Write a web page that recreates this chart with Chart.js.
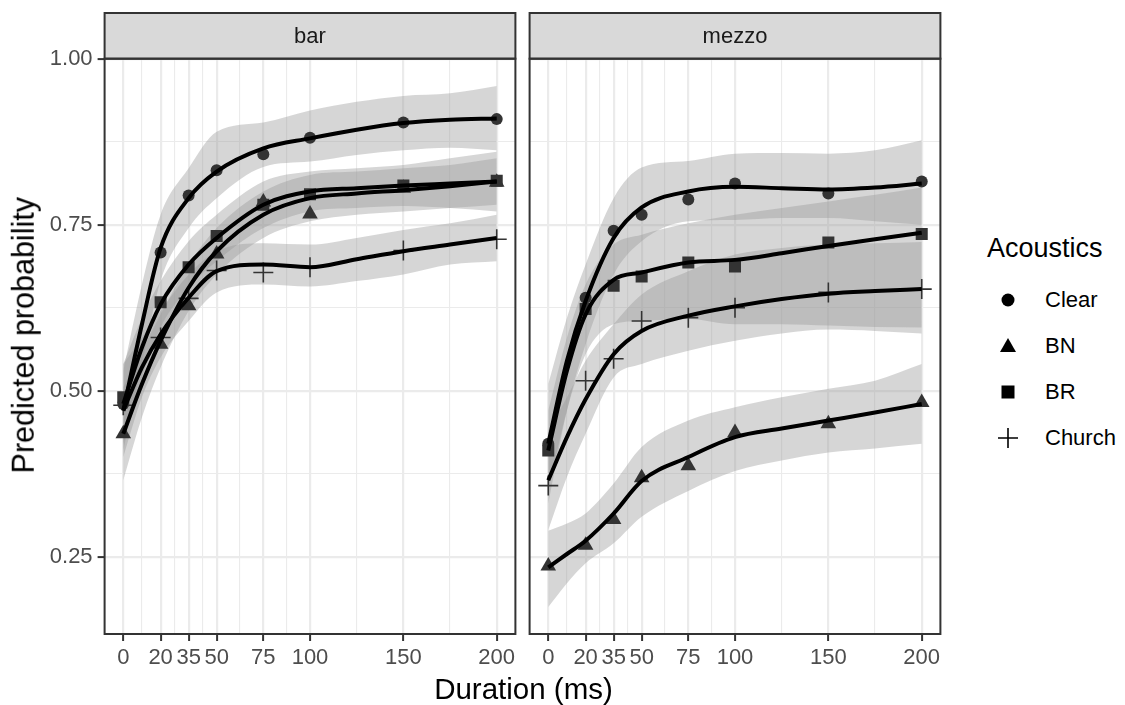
<!DOCTYPE html>
<html>
<head>
<meta charset="utf-8">
<script src="https://cdn.jsdelivr.net/npm/chart.js"></script>
<style>
  body { margin: 0; background: #fff; font-family: "Liberation Sans", Arial, Helvetica, sans-serif; }
  #wrap { position: relative; width: 1125px; height: 705px; overflow: hidden; }
  canvas { position: absolute; top: 0; }
  .txt { position: absolute; white-space: nowrap; color: #000; }
  .key { position: absolute; width: 24px; height: 24px; }
</style>
</head>
<body>
<div id="wrap">
  <canvas id="barChart" width="522" height="705" style="left:0"></canvas>
  <canvas id="mezzoChart" width="425" height="705" style="left:522px"></canvas>
  <div class="txt" style="top:674px;left:0;width:1047px;text-align:center;font-size:29.5px;line-height:29.5px">Duration (ms)</div>
  <div class="txt" style="left:-127px;top:320px;width:300px;text-align:center;font-size:30.5px;line-height:30.5px;transform:rotate(-90deg)">Predicted probability</div>
  <div class="txt" style="top:235px;left:987px;font-size:27px;line-height:27px">Acoustics</div>
  <div id="legend"></div>
</div>
<script>
// ---- data ----
const durations = [0, 20, 35, 50, 75, 100, 150, 200];
const fitX = [0, 10, 20, 35, 50, 75, 100, 125, 150, 175, 200];
const groups = ['Clear', 'BN', 'BR', 'Church'];
const xMajor = [0, 20, 35, 50, 75, 100, 150, 200];
const xMinor = [10, 27.5, 42.5, 62.5, 87.5, 125, 175];
const yMajor = [0.25, 0.5, 0.75, 1.0];
const yMinor = [0.375, 0.625, 0.875];

// panel "bar"
const barClearPts  = [0.480, 0.708, 0.794, 0.832, 0.856, 0.881, 0.904, 0.909];
const barBNPts     = [0.435, 0.570, 0.628, 0.706, 0.784, 0.766, 0.805, 0.814];
const barBRPts     = [0.490, 0.633, 0.686, 0.733, 0.780, 0.796, 0.809, 0.816];
const barChurchPts = [0.478, 0.580, 0.639, 0.681, 0.678, 0.686, 0.711, 0.728];

const barClearFit  = [0.47, 0.60, 0.715, 0.79, 0.83, 0.865, 0.88, 0.893, 0.903, 0.908, 0.91];
const barClearLo   = [0.41, 0.54, 0.665, 0.745, 0.79, 0.837, 0.845, 0.855, 0.862, 0.866, 0.862];
const barClearHi   = [0.53, 0.66, 0.765, 0.835, 0.89, 0.904, 0.922, 0.935, 0.944, 0.948, 0.959];
const barBNFit     = [0.435, 0.51, 0.575, 0.655, 0.71, 0.765, 0.79, 0.797, 0.802, 0.808, 0.815];
const barBNLo      = [0.365, 0.46, 0.535, 0.62, 0.675, 0.73, 0.755, 0.765, 0.77, 0.775, 0.78];
const barBNHi      = [0.505, 0.56, 0.615, 0.69, 0.745, 0.80, 0.825, 0.83, 0.835, 0.84, 0.85];
const barBRFit     = [0.48, 0.565, 0.63, 0.69, 0.73, 0.78, 0.80, 0.805, 0.809, 0.812, 0.815];
const barBRLo      = [0.42, 0.52, 0.595, 0.655, 0.695, 0.745, 0.77, 0.775, 0.778, 0.775, 0.77];
const barBRHi      = [0.54, 0.61, 0.665, 0.725, 0.765, 0.815, 0.83, 0.835, 0.84, 0.85, 0.86];
const barChurchFit = [0.47, 0.535, 0.585, 0.64, 0.68, 0.69, 0.686, 0.698, 0.71, 0.72, 0.73];
const barChurchLo  = [0.40, 0.49, 0.55, 0.605, 0.648, 0.66, 0.657, 0.665, 0.675, 0.69, 0.695];
const barChurchHi  = [0.54, 0.58, 0.62, 0.675, 0.71, 0.722, 0.72, 0.73, 0.742, 0.752, 0.765];

// panel "mezzo"
const mezClearPts  = [0.420, 0.640, 0.741, 0.765, 0.788, 0.812, 0.797, 0.815];
const mezBNPts     = [0.236, 0.267, 0.306, 0.369, 0.387, 0.437, 0.450, 0.482];
const mezBRPts     = [0.410, 0.623, 0.658, 0.672, 0.693, 0.687, 0.723, 0.736];
const mezChurchPts = [0.357, 0.515, 0.548, 0.605, 0.610, 0.625, 0.648, 0.653];

const mezClearFit  = [0.42, 0.545, 0.635, 0.73, 0.776, 0.80, 0.807, 0.805, 0.803, 0.806, 0.812];
const mezClearLo   = [0.33, 0.47, 0.57, 0.675, 0.725, 0.755, 0.757, 0.76, 0.76, 0.755, 0.75];
const mezClearHi   = [0.51, 0.61, 0.69, 0.79, 0.836, 0.846, 0.857, 0.858, 0.857, 0.862, 0.877];
const mezBNFit     = [0.234, 0.254, 0.274, 0.315, 0.364, 0.40, 0.43, 0.443, 0.455, 0.467, 0.48];
const mezBNLo      = [0.174, 0.21, 0.24, 0.27, 0.31, 0.349, 0.379, 0.395, 0.407, 0.413, 0.42];
const mezBNHi      = [0.289, 0.30, 0.315, 0.36, 0.415, 0.455, 0.475, 0.49, 0.503, 0.515, 0.54];
const mezBRFit     = [0.41, 0.53, 0.615, 0.667, 0.678, 0.693, 0.697, 0.707, 0.718, 0.728, 0.738];
const mezBRLo      = [0.35, 0.47, 0.555, 0.60, 0.605, 0.608, 0.60, 0.60, 0.598, 0.596, 0.595];
const mezBRHi      = [0.47, 0.58, 0.66, 0.72, 0.735, 0.752, 0.765, 0.775, 0.785, 0.795, 0.806];
const mezChurchFit = [0.365, 0.43, 0.487, 0.555, 0.59, 0.613, 0.627, 0.638, 0.646, 0.65, 0.653];
const mezChurchLo  = [0.29, 0.37, 0.435, 0.52, 0.54, 0.56, 0.575, 0.586, 0.592, 0.59, 0.586];
const mezChurchHi  = [0.44, 0.49, 0.545, 0.60, 0.645, 0.68, 0.705, 0.715, 0.72, 0.722, 0.724];

// marker look per group
const shapes = { Clear: 'circle', BN: 'triangle', BR: 'rect', Church: 'cross' };
const radii = { Clear: 6, BN: 9, BR: 8.5, Church: 10 };

const FONT = '"Liberation Sans", Arial, Helvetica, sans-serif';
const ribbonFill = 'rgba(153,153,153,0.4)';
const pointColor = '#333333';

function toXY(xs, ys) {
  return xs.map((x, i) => ({ x: x, y: ys[i] }));
}

function buildDatasets(series) {
  const sets = [];
  series.forEach(s => {
    // ribbon: upper edge filled down to the lower edge (next dataset)
    sets.push({
      data: toXY(fitX, s.hi), borderColor: 'rgba(0,0,0,0)', borderWidth: 0,
      backgroundColor: ribbonFill, fill: '+1', pointRadius: 0,
      cubicInterpolationMode: 'monotone', order: 3
    });
    sets.push({
      data: toXY(fitX, s.lo), borderColor: 'rgba(0,0,0,0)', borderWidth: 0,
      fill: false, pointRadius: 0, cubicInterpolationMode: 'monotone', order: 3
    });
    // smooth line
    sets.push({
      label: s.name, data: toXY(fitX, s.fit), borderColor: '#000', borderWidth: 4,
      fill: false, pointRadius: 0, cubicInterpolationMode: 'monotone', order: 1
    });
    // observed points
    sets.push({
      label: s.name, data: toXY(durations, s.pts), showLine: false,
      pointStyle: shapes[s.name], pointRadius: radii[s.name],
      pointBackgroundColor: pointColor, pointBorderColor: pointColor,
      pointBorderWidth: s.name === 'Church' ? 1.6 : 0, order: 2
    });
  });
  return sets;
}

function panelFrame(label) {
  return {
    id: 'panelFrame',
    afterDraw(chart) {
      const { ctx, chartArea: a } = chart;
      ctx.save();
      // facet strip
      ctx.fillStyle = '#d9d9d9';
      ctx.fillRect(a.left, 13, a.right - a.left, a.top - 13);
      ctx.strokeStyle = '#333';
      ctx.lineWidth = 2;
      ctx.strokeRect(a.left, 13, a.right - a.left, a.top - 13);
      ctx.fillStyle = '#1a1a1a';
      ctx.font = '22px ' + FONT;
      ctx.textAlign = 'center';
      ctx.textBaseline = 'middle';
      ctx.fillText(label, (a.left + a.right) / 2, (13 + a.top) / 2 + 1);
      // panel border
      ctx.strokeRect(a.left, a.top, a.right - a.left, a.bottom - a.top);
      ctx.restore();
    }
  };
}

function makePanel(id, label, series, showY, padLeft) {
  const xAll = xMajor.concat(xMinor).sort((a, b) => a - b);
  const yAll = yMajor.concat(yMinor).sort((a, b) => a - b);
  return new Chart(document.getElementById(id), {
    type: 'line',
    data: { datasets: buildDatasets(series) },
    options: {
      responsive: false,
      animation: false,
      devicePixelRatio: 1,
      layout: { autoPadding: false, padding: { left: padLeft, top: 58.7, right: 6.6, bottom: 26 } },
      plugins: { legend: { display: false }, tooltip: { enabled: false } },
      scales: {
        x: {
          type: 'linear', min: -10, max: 210,
          afterBuildTicks: sc => { sc.ticks = xAll.map(v => ({ value: v })); },
          afterFit: sc => { sc.height = 45; sc.paddingLeft = 0; sc.paddingRight = 0; },
          border: { display: false },
          grid: {
            color: '#ebebeb',
            lineWidth: c => (c.tick && xMajor.includes(c.tick.value)) ? 2.2 : 1.1,
            tickColor: c => (c.tick && xMajor.includes(c.tick.value)) ? '#333' : 'rgba(0,0,0,0)',
            tickLength: 7, tickWidth: 2
          },
          ticks: {
            autoSkip: false, maxRotation: 0, minRotation: 0, padding: 4,
            color: '#4d4d4d', font: { family: FONT, size: 22 },
            callback: v => xMajor.includes(v) ? String(v) : ''
          }
        },
        y: {
          type: 'linear', min: 0.1335, max: 1.0,
          afterBuildTicks: sc => { sc.ticks = yAll.map(v => ({ value: v })); },
          afterFit: sc => { sc.width = showY ? 104.6 : 0; sc.paddingTop = 0; sc.paddingBottom = 0; },
          border: { display: false },
          grid: {
            color: '#ebebeb',
            lineWidth: c => (c.tick && yMajor.includes(c.tick.value)) ? 2.2 : 1.1,
            tickColor: c => (showY && c.tick && yMajor.includes(c.tick.value)) ? '#333' : 'rgba(0,0,0,0)',
            drawTicks: showY, tickLength: 7, tickWidth: 2
          },
          ticks: {
            display: showY, padding: 5,
            color: '#4d4d4d', font: { family: FONT, size: 22 },
            callback: v => yMajor.includes(v) ? v.toFixed(2) : ''
          }
        }
      }
    },
    plugins: [panelFrame(label)]
  });
}

makePanel('barChart', 'bar', [
  { name: 'Clear', pts: barClearPts, fit: barClearFit, lo: barClearLo, hi: barClearHi },
  { name: 'BN', pts: barBNPts, fit: barBNFit, lo: barBNLo, hi: barBNHi },
  { name: 'BR', pts: barBRPts, fit: barBRFit, lo: barBRLo, hi: barBRHi },
  { name: 'Church', pts: barChurchPts, fit: barChurchFit, lo: barChurchLo, hi: barChurchHi }
], true, 0);

makePanel('mezzoChart', 'mezzo', [
  { name: 'Clear', pts: mezClearPts, fit: mezClearFit, lo: mezClearLo, hi: mezClearHi },
  { name: 'BN', pts: mezBNPts, fit: mezBNFit, lo: mezBNLo, hi: mezBNHi },
  { name: 'BR', pts: mezBRPts, fit: mezBRFit, lo: mezBRLo, hi: mezBRHi },
  { name: 'Church', pts: mezChurchPts, fit: mezChurchFit, lo: mezChurchLo, hi: mezChurchHi }
], false, 7.6);

// legend keys (html text + small svg symbols)
const keySvg = {
  Clear: '<circle cx="12" cy="12" r="6.5" fill="#000"/>',
  BN: '<polygon points="12,4 20,18 4,18" fill="#000"/>',
  BR: '<rect x="5.5" y="5.5" width="13" height="13" fill="#000"/>',
  Church: '<path d="M2 12H22M12 2V22" stroke="#000" stroke-width="1.6"/>'
};
const legendRows = [300, 346, 392, 438];
const legend = document.getElementById('legend');
groups.forEach((g, i) => {
  const y = legendRows[i];
  legend.insertAdjacentHTML('beforeend',
    '<svg class="key" style="left:996px;top:' + (y - 12) + 'px" viewBox="0 0 24 24">' + keySvg[g] + '</svg>' +
    '<div class="txt" style="left:1045px;top:' + (y - 11) + 'px;font-size:22px;line-height:22px">' + g + '</div>');
});
</script>
</body>
</html>
